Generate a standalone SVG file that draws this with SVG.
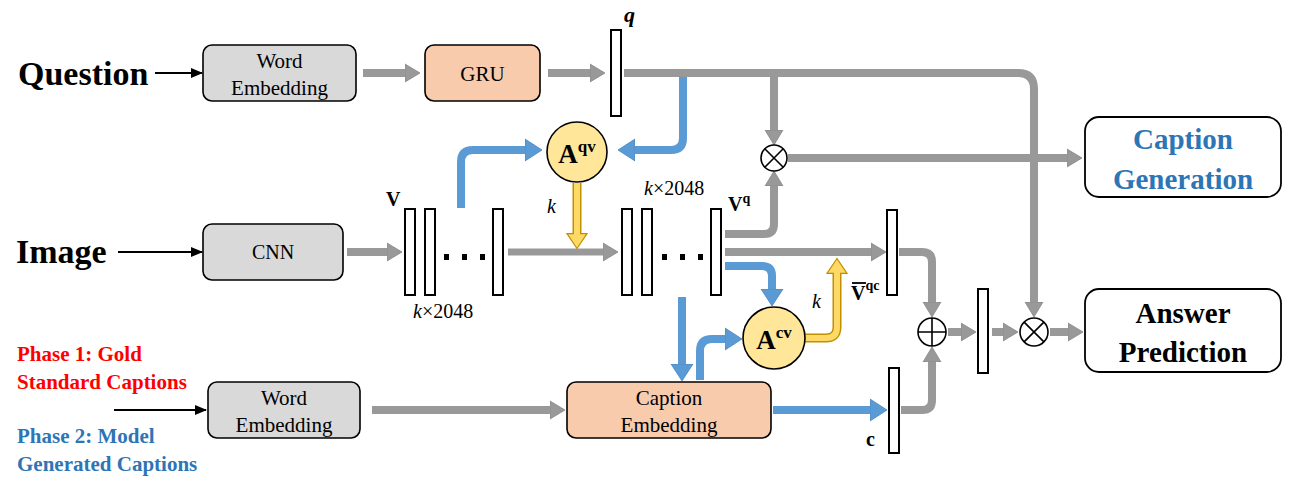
<svg xmlns="http://www.w3.org/2000/svg" width="1295" height="482" viewBox="0 0 1295 482">
<style>
.box{stroke:#000;stroke-width:1.6}
.gray{fill:#d9d9d9}
.peach{fill:#f8cbad}
.bar{fill:#fff;stroke:#000;stroke-width:2}
.t{fill:#000;font-family:'Liberation Serif','Tinos','Times New Roman','Times','Noto Serif','DejaVu Serif','FreeSerif',serif}
.bt{font-weight:bold;font-family:'Liberation Serif','Tinos','Times New Roman','Times','Noto Serif','DejaVu Serif','FreeSerif',serif}
.g{fill:none;stroke:#999;stroke-width:8;marker-end:url(#hg)}
.b{fill:none;stroke:#5b9bd5;stroke-width:8;marker-end:url(#hb)}
.yo{fill:none;stroke:#bf9000;stroke-width:9;marker-end:url(#hy)}
.yi{fill:none;stroke:#ffd966;stroke-width:6}
.k{stroke:#000;stroke-width:1.6;fill:none}
.op{fill:#fff;stroke:#000;stroke-width:1.6}
.att{fill:#ffe699;stroke:#000;stroke-width:1.6}
</style>
<defs>
<marker id="hg" markerUnits="userSpaceOnUse" viewBox="0 0 16 20" markerWidth="16" markerHeight="20" refX="1" refY="10" orient="auto"><path d="M0,1 L15,10 L0,19 z" fill="#999" stroke="#888" stroke-width="0.8"/></marker>
<marker id="hb" markerUnits="userSpaceOnUse" viewBox="0 0 18 24" markerWidth="18" markerHeight="24" refX="1" refY="12" orient="auto"><path d="M0,1 L17,12 L0,23 z" fill="#5b9bd5" stroke="#4a86be" stroke-width="0.8"/></marker>
<marker id="hy" markerUnits="userSpaceOnUse" viewBox="0 0 17 22" markerWidth="17" markerHeight="22" refX="1" refY="11" orient="auto"><path d="M0.7,1 L15.5,11 L0.7,21 z" fill="#ffd966" stroke="#bf9000" stroke-width="1.2"/></marker>
<marker id="hk" markerUnits="userSpaceOnUse" viewBox="0 0 12 10" markerWidth="12" markerHeight="10" refX="11" refY="5" orient="auto"><path d="M0,0 L12,5 L0,10 z" fill="#000"/></marker>
</defs>

<g id="inputs">
<text class="bt" x="18" y="85" font-size="34">Question</text>
<text class="bt" x="16" y="263" font-size="34">Image</text>
<text class="bt" x="17" y="361" font-size="21" fill="#ff0000">Phase 1: Gold</text>
<text class="bt" x="17" y="389" font-size="21" fill="#ff0000">Standard Captions</text>
<text class="bt" x="17" y="443" font-size="21" fill="#2e75b6">Phase 2: Model</text>
<text class="bt" x="17" y="471" font-size="21" fill="#2e75b6">Generated Captions</text>
</g>

<g id="word-embedding-q">
<rect class="box gray" x="203" y="45" width="153" height="56" rx="9"/>
<text class="t" x="279.5" y="68" font-size="21" text-anchor="middle">Word</text>
<text class="t" x="279.5" y="95" font-size="21" text-anchor="middle">Embedding</text>
</g>
<g id="gru">
<rect class="box peach" x="425" y="45" width="115" height="56" rx="9"/>
<text class="t" x="482.5" y="81" font-size="21" text-anchor="middle">GRU</text>
</g>
<g id="cnn">
<rect class="box gray" x="203" y="224" width="140" height="56" rx="9"/>
<text class="t" x="273" y="259" font-size="20" text-anchor="middle">CNN</text>
</g>
<g id="word-embedding-c">
<rect class="box gray" x="208" y="382" width="152" height="56" rx="9"/>
<text class="t" x="284" y="405" font-size="21" text-anchor="middle">Word</text>
<text class="t" x="284" y="432" font-size="21" text-anchor="middle">Embedding</text>
</g>
<g id="caption-embedding">
<rect class="box peach" x="567" y="382" width="204" height="56" rx="9"/>
<text class="t" x="669" y="405" font-size="21" text-anchor="middle">Caption</text>
<text class="t" x="669" y="432" font-size="21" text-anchor="middle">Embedding</text>
</g>

<g id="q-vector">
<rect class="bar" x="611" y="30" width="10" height="86"/>
<text class="bt" x="624" y="22" font-size="22" font-style="italic">q</text>
</g>
<g id="v-features">
<rect class="bar" x="405" y="209" width="10" height="86"/>
<rect class="bar" x="425" y="209" width="10" height="86"/>
<rect class="bar" x="493" y="209" width="10" height="86"/>
<rect x="444" y="254" width="5" height="6"/><rect x="462" y="254" width="5" height="6"/><rect x="480" y="254" width="5" height="6"/>
<text class="bt" x="386" y="206" font-size="20">V</text>
<text class="t" x="413" y="318" font-size="20"><tspan font-style="italic">k</tspan>×2048</text>
</g>
<g id="vq-features">
<rect class="bar" x="622" y="209" width="10" height="86"/>
<rect class="bar" x="642" y="209" width="10" height="86"/>
<rect class="bar" x="711" y="209" width="10" height="86"/>
<rect x="662" y="254" width="5" height="6"/><rect x="680" y="254" width="5" height="6"/><rect x="698" y="254" width="5" height="6"/>
<text class="t" x="644" y="195" font-size="20"><tspan font-style="italic">k</tspan>×2048</text>
<text class="bt" x="728" y="211" font-size="20">V<tspan font-size="14" dy="-8">q</tspan></text>
</g>
<g id="vqc-vector">
<rect class="bar" x="887" y="210" width="10" height="85"/>
<text class="bt" x="851" y="300" font-size="20">V<tspan font-size="14" dy="-10">qc</tspan></text>
<line x1="852" y1="283" x2="866" y2="283" stroke="#000" stroke-width="1.8"/>
</g>
<g id="c-vector">
<rect class="bar" x="889" y="368" width="10" height="85"/>
<text class="bt" x="866" y="446" font-size="20">c</text>
</g>
<g id="joint-vector">
<rect class="bar" x="978" y="289" width="10" height="84"/>
</g>
<g id="k-labels">
<text class="t" x="547" y="213" font-size="20" font-style="italic">k</text>
<text class="t" x="812" y="308" font-size="20" font-style="italic">k</text>
</g>

<g id="connectors">
<line x1="155" y1="73" x2="202" y2="73" stroke="#000" stroke-width="1.8" marker-end="url(#hk)"/>
<line x1="118" y1="252" x2="202" y2="252" stroke="#000" stroke-width="1.8" marker-end="url(#hk)"/>
<line x1="114" y1="410" x2="206" y2="410" stroke="#000" stroke-width="1.8" marker-end="url(#hk)"/>

<path class="g" d="M363,73 H406"/>
<path class="g" d="M548,73 H591"/>
<path class="g" d="M624,73 H1018 Q1034,73 1034,89 V303"/>
<path class="g" d="M774,77 V131"/>
<path class="g" d="M788,158 H1068"/>
<path class="g" d="M347,252 H388"/>
<path class="g" d="M508,252 H604" style="stroke-width:7"/>
<path class="g" d="M725,234 H764 Q774,234 774,224 V185"/>
<path class="g" d="M725,252 H872"/>
<path class="g" d="M899,252 H922 Q932,252 932,262 V303"/>
<path class="g" d="M901,410 H922 Q932,410 932,400 V361"/>
<path class="g" d="M948,332 H962"/>
<path class="g" d="M992,332 H1004"/>
<path class="g" d="M1050,332 H1069"/>
<path class="g" d="M372,410 H551"/>

<path class="b" d="M683,77 V138 Q683,150 671,150 H634"/>
<path class="b" d="M461,208 V162 Q461,150 473,150 H526"/>
<path class="b" d="M725,266 H762 Q772,266 772,276 V290"/>
<path class="b" d="M682,297 V365"/>
<path class="b" d="M700,380 V351 Q700,339 712,339 H726"/>
<path class="b" d="M773,410 H871"/>

<path class="yo" d="M577,183 V234"/>
<path class="yi" d="M577,183 V235"/>
<path class="yo" d="M805,338 H826 Q837,338 837,327 V273"/>
<path class="yi" d="M805,338 H826 Q837,338 837,327 V272"/>
</g>

<g id="attention-qv">
<circle class="att" cx="577" cy="152" r="30"/>
<text class="bt" x="577" y="163" font-size="27" text-anchor="middle">A<tspan font-size="17" dy="-11">qv</tspan></text>
</g>
<g id="attention-cv">
<circle class="att" cx="774" cy="338" r="31"/>
<text class="bt" x="774" y="349" font-size="27" text-anchor="middle">A<tspan font-size="17" dy="-11">cv</tspan></text>
</g>

<g id="mult-1">
<circle class="op" cx="774" cy="158" r="13"/>
<path class="k" d="M764.8,148.8 L783.2,167.2 M783.2,148.8 L764.8,167.2"/>
</g>
<g id="add">
<circle class="op" cx="932" cy="332" r="14"/>
<path class="k" d="M918,332 H946 M932,318 V346"/>
</g>
<g id="mult-2">
<circle class="op" cx="1034" cy="332" r="14"/>
<path class="k" d="M1024.1,322.1 L1043.9,341.9 M1043.9,322.1 L1024.1,341.9"/>
</g>

<g id="caption-generation">
<rect x="1085" y="117" width="196" height="80" rx="14" fill="#fff" stroke="#000" stroke-width="1.8"/>
<text class="bt" x="1183" y="149" font-size="29" text-anchor="middle" fill="#2e75b6">Caption</text>
<text class="bt" x="1183" y="189" font-size="29" text-anchor="middle" fill="#2e75b6">Generation</text>
</g>
<g id="answer-prediction">
<rect x="1085" y="289" width="196" height="83" rx="14" fill="#fff" stroke="#000" stroke-width="1.8"/>
<text class="bt" x="1183" y="323" font-size="29" text-anchor="middle" fill="#000">Answer</text>
<text class="bt" x="1183" y="362" font-size="29" text-anchor="middle" fill="#000">Prediction</text>
</g>
</svg>
